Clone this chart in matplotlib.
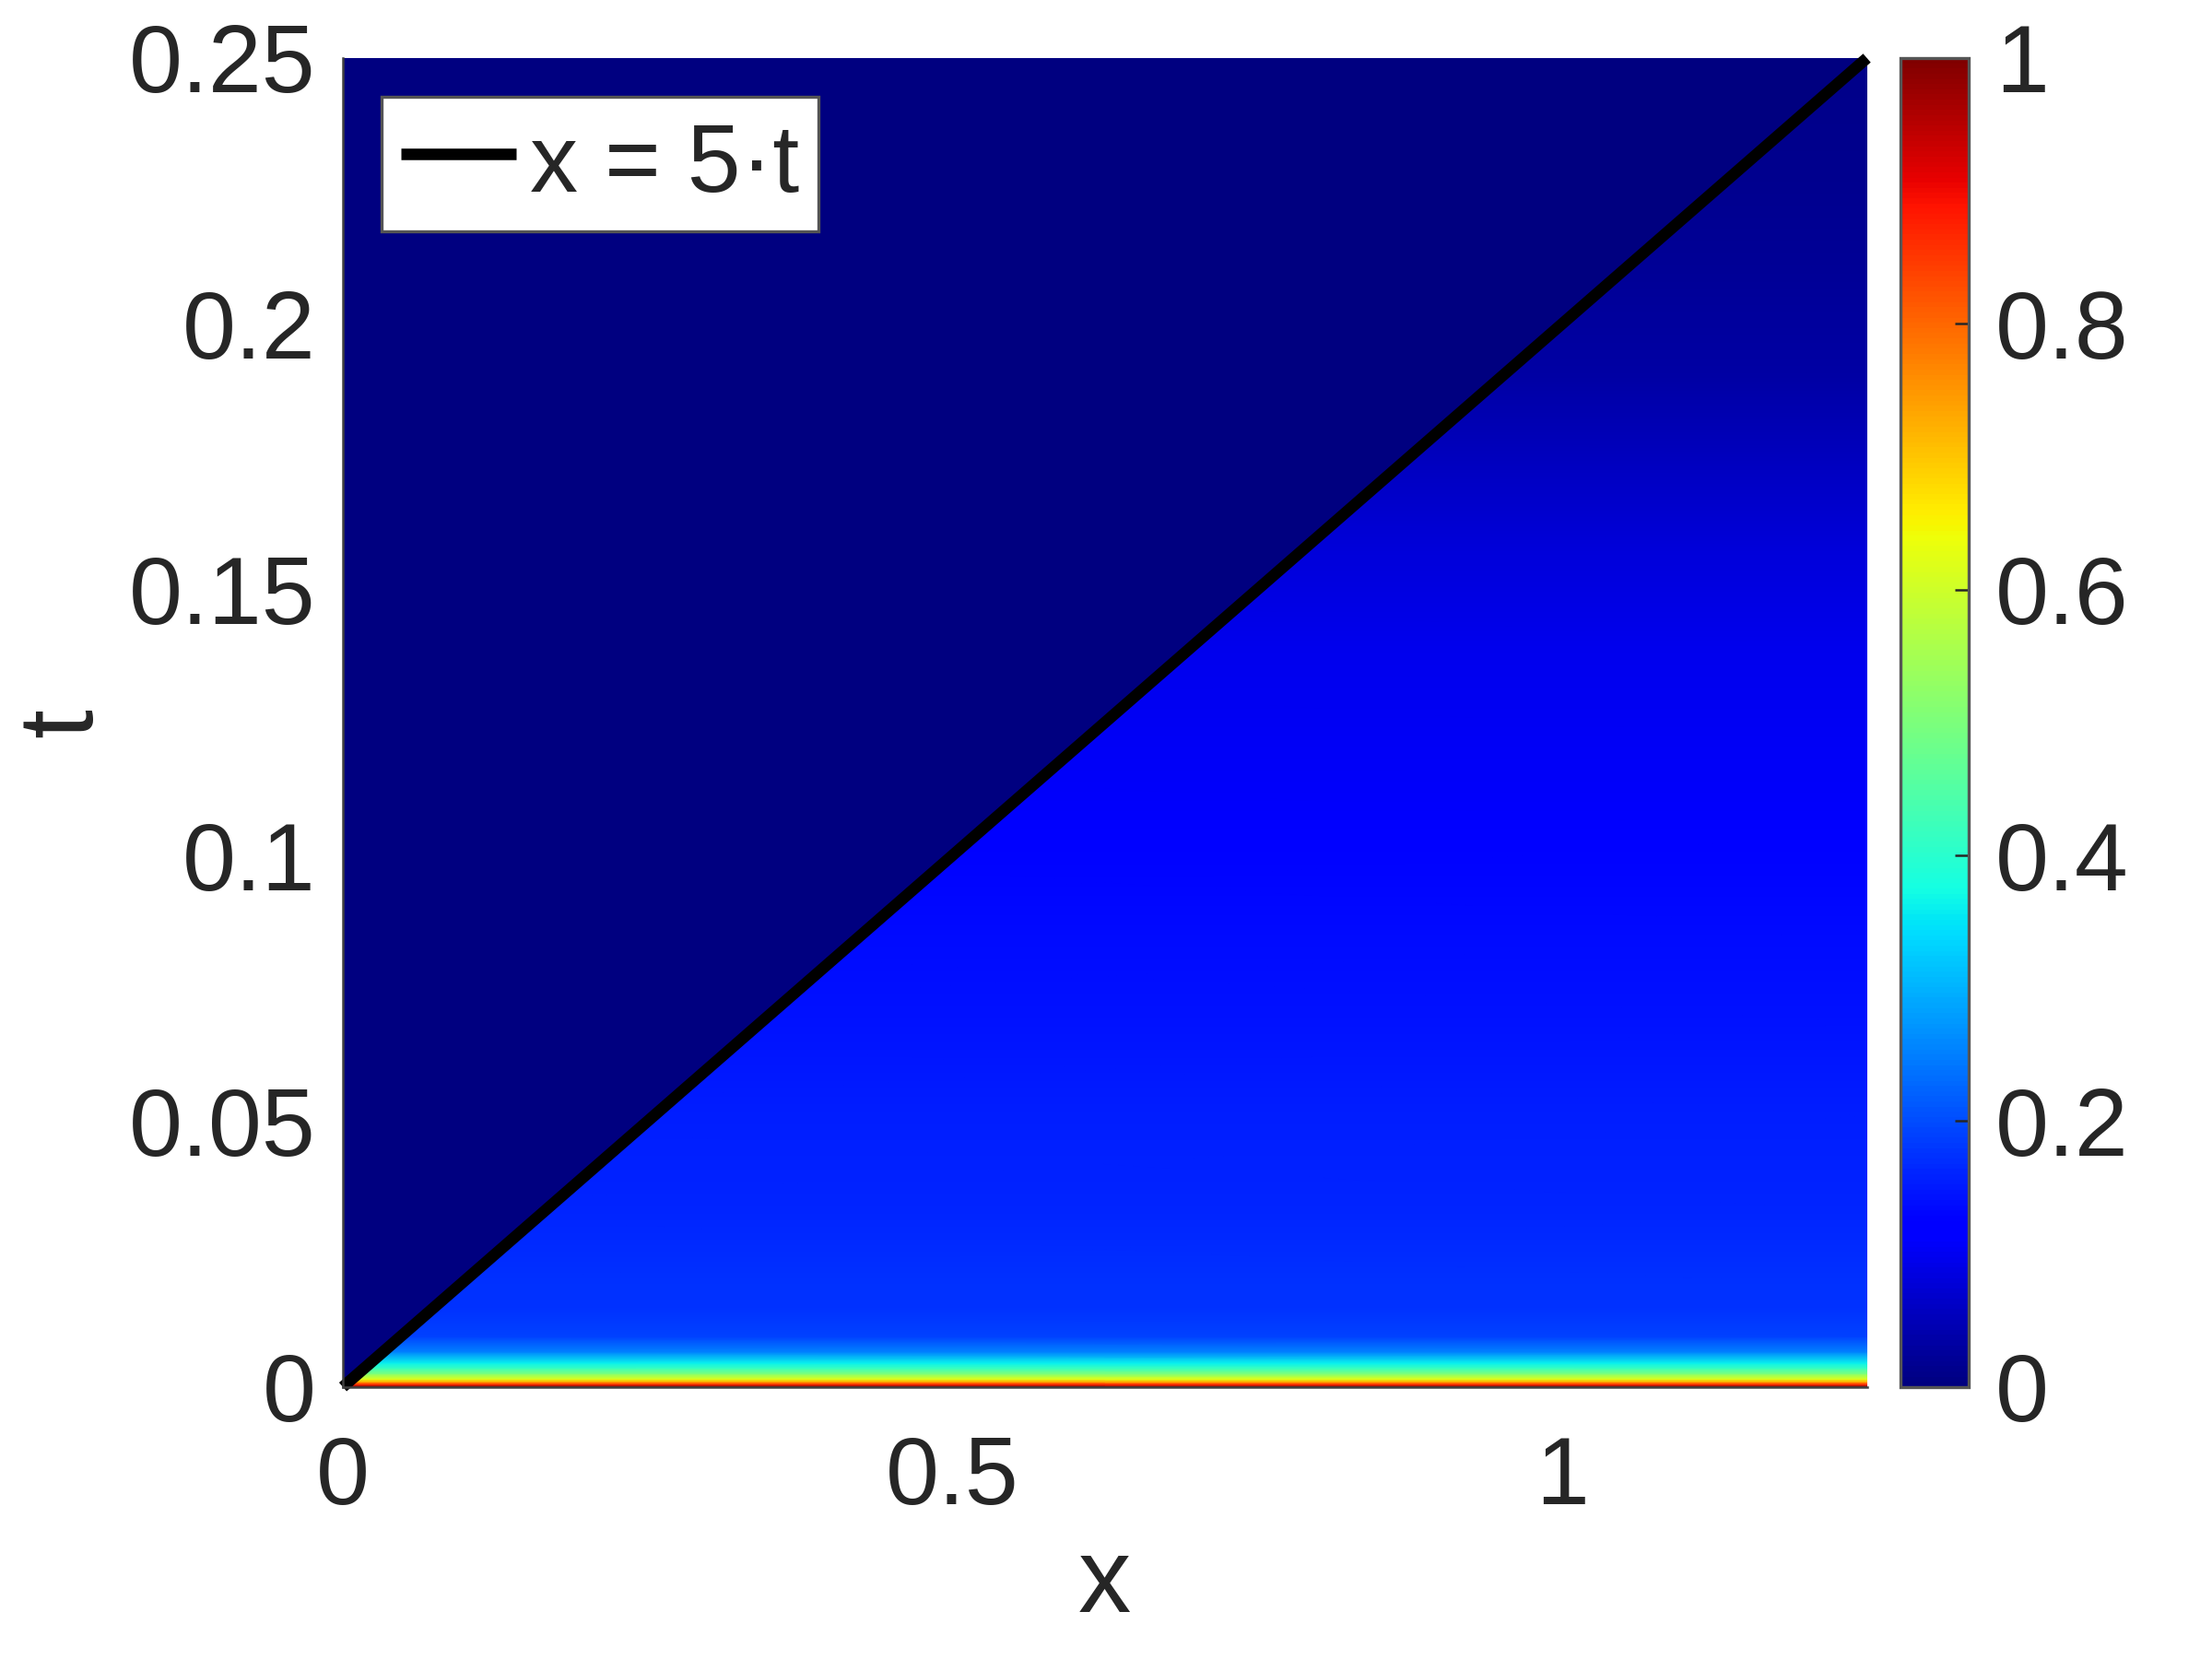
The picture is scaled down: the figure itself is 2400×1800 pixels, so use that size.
import numpy as np
import matplotlib
matplotlib.use('Agg')
from matplotlib import pyplot as plt
from matplotlib.patches import Polygon
from matplotlib.ticker import FuncFormatter

plt.rcParams['font.family'] = ['Liberation Sans', 'DejaVu Sans']
plt.rcParams['text.color'] = '#262626'
plt.rcParams['axes.labelcolor'] = '#262626'
plt.rcParams['xtick.color'] = '#262626'
plt.rcParams['ytick.color'] = '#262626'

# domain
x_edges = [0.0, 1.25]
t_edges = [0.0, 0.25]
wave_speed = 5

# u(t) profile behind the front x = 5t
t_nodes = [0.0, 0.0005, 0.001, 0.0015, 0.0025, 0.0035, 0.0045, 0.0066, 0.0095,
           0.015, 0.019, 0.033, 0.051, 0.0685, 0.086, 0.104, 0.1215, 0.139,
           0.157, 0.174, 0.19, 0.21, 0.23, 0.25]
u_nodes = [1.0, 0.86, 0.72, 0.62, 0.5, 0.42, 0.36, 0.25, 0.19,
           0.175, 0.172, 0.164, 0.156, 0.141, 0.133, 0.115, 0.105, 0.094,
           0.08, 0.055, 0.035, 0.022, 0.013, 0.008]
u_ahead = 0.0  # value in front of the wave

xt_ticks = [0, 0.5, 1]
yt_ticks = [0, 0.05, 0.1, 0.15, 0.2, 0.25]
cb_ticks = [0, 0.2, 0.4, 0.6, 0.8, 1]

fig = plt.figure(figsize=(8, 6), dpi=300)
ax = fig.add_axes([0.155, 0.164, 0.689, 0.801])
cax = fig.add_axes([0.859, 0.164, 0.031, 0.801])

# region ahead of the front
X0, T0 = np.meshgrid(x_edges, t_edges)
ax.pcolormesh(X0, T0, np.full(X0.shape, u_ahead), cmap='jet', vmin=0, vmax=1,
              shading='gouraud', zorder=1)

# region behind the front, clipped to the triangle under x = 5t
X, T = np.meshgrid(x_edges, t_nodes)
U = np.repeat(np.array(u_nodes)[:, None], len(x_edges), axis=1)
m = ax.pcolormesh(X, T, U, cmap='jet', vmin=0, vmax=1, shading='gouraud', zorder=2)
tri = Polygon([[x_edges[0], t_edges[0]], [x_edges[1], t_edges[0]],
               [x_edges[1], x_edges[1] / wave_speed]],
              closed=True, transform=ax.transData, facecolor='none', edgecolor='none')
ax.add_patch(tri)
m.set_clip_path(tri)

ax.plot(x_edges, [x / wave_speed for x in x_edges], 'k-', lw=3,
        solid_capstyle='butt', clip_on=False, zorder=5, label=u'x = 5\u00b7t')

ax.set_xlim(x_edges)
ax.set_ylim(t_edges)
ax.set_xticks(xt_ticks)
ax.set_yticks(yt_ticks)
fmt = FuncFormatter(lambda v, p: '%g' % v)
ax.xaxis.set_major_formatter(fmt)
ax.yaxis.set_major_formatter(fmt)
ax.tick_params(axis='both', length=0, labelsize=25)
ax.tick_params(axis='x', pad=12.5)
ax.tick_params(axis='y', pad=7)
ax.set_xlabel('x', fontsize=27.5, labelpad=3)
ax.set_ylabel('t', fontsize=27.5, labelpad=4)
for s in ['top', 'right']:
    ax.spines[s].set_visible(False)
for s in ['left', 'bottom']:
    ax.spines[s].set_color('#404040')
    ax.spines[s].set_linewidth(0.6)
    ax.spines[s].set_zorder(6)

leg = ax.legend(loc='upper left', fontsize=25, handlelength=1.2, handletextpad=0.15,
                handleheight=1.0, borderpad=0.2, borderaxespad=0.4,
                fancybox=False, framealpha=1)
leg.get_frame().set_edgecolor('#555555')
leg.get_frame().set_linewidth(0.8)

cb = fig.colorbar(m, cax=cax, ticks=cb_ticks)
cb.ax.yaxis.set_major_formatter(fmt)
cb.ax.tick_params(labelsize=25, direction='in', length=3.6, width=0.6, pad=7)
cb.outline.set_edgecolor('#555555')
cb.outline.set_linewidth(0.8)

plt.savefig('out.png', dpi=300)
